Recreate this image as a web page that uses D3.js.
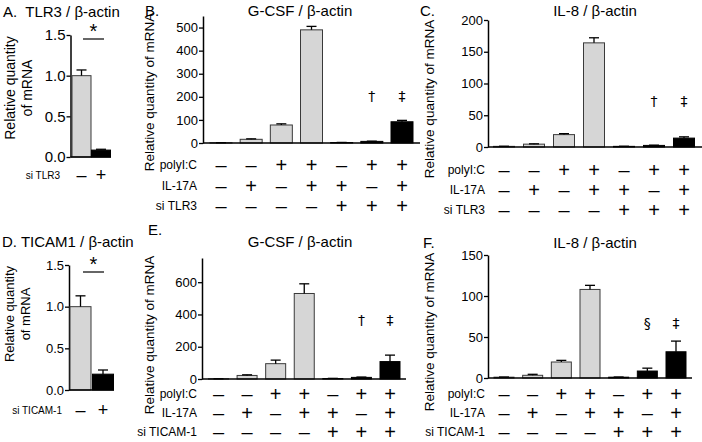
<!DOCTYPE html>
<html>
<head>
<meta charset="utf-8">
<script src="https://cdn.jsdelivr.net/npm/d3@7"></script>
<style>
  body { margin: 0; background: #fff; }
  svg { display: block; font-family: "Liberation Sans", Arial, sans-serif; }
</style>
</head>
<body>
<svg width="702" height="442"></svg>
<script>
// knockdown check panels (A, D)
const kdSigns = ["—", "+"];
const tlr3Values = [1.0, 0.085];
const tlr3Errors = [0.07, 0.01];
const ticamValues = [1.0, 0.19];
const ticamErrors = [0.13, 0.05];
const kdTicks = [0, 0.5, 1.0, 1.5];

// treatment rows for the 7 groups, 1 = "+"
const polyIC = [0, 0, 1, 1, 0, 1, 1];
const il17a = [0, 1, 0, 1, 1, 0, 1];
const siRNA = [0, 0, 0, 0, 1, 1, 1];

// B. G-CSF, si TLR3
const gcsfTlr3 = [1, 16, 78, 490, 2, 7, 92];
const gcsfTlr3Err = [0.3, 2, 5, 15, 0.5, 1, 6];
// C. IL-8, si TLR3
const il8Tlr3 = [1, 4.5, 19.5, 164, 1, 2.5, 14];
const il8Tlr3Err = [0.2, 0.5, 1.5, 8, 0.2, 0.4, 2];
// E. G-CSF, si TICAM-1
const gcsfTicam = [1, 22, 95, 530, 3, 10, 108];
const gcsfTicamErr = [0.5, 4, 22, 60, 1, 2, 40];
// F. IL-8, si TICAM-1
const il8Ticam = [1, 3.3, 19.5, 108, 1, 8.5, 32];
const il8TicamErr = [0.2, 1.2, 2, 5, 0.2, 3.5, 13];

const marksDagger = ["", "", "", "", "", "†", "‡"];
const marksSection = ["", "", "", "", "", "§", "‡"];

const ticksB = [0, 100, 200, 300, 400, 500];
const ticksC = [0, 50, 100, 150, 200];
const ticksE = [0, 200, 400, 600];
const ticksF = [0, 50, 100, 150];

const svg = d3.select("svg");
const light = "#d6d6d6";

function drawBars(g, x, y, values, errors, fills, w) {
  values.forEach((v, i) => {
    const cx = x(i);
    g.append("rect")
      .attr("x", cx - w / 2)
      .attr("y", y(v))
      .attr("width", w)
      .attr("height", y(0) - y(v))
      .attr("fill", fills[i])
      .attr("stroke", fills[i] === "#000" ? "#000" : "#3a3a3a")
      .attr("stroke-width", 1);
    const top = y(v + errors[i]);
    g.append("line")
      .attr("x1", cx).attr("x2", cx)
      .attr("y1", y(v)).attr("y2", top)
      .attr("stroke", "#000").attr("stroke-width", 1.3);
    g.append("line")
      .attr("x1", cx - 5).attr("x2", cx + 5)
      .attr("y1", top).attr("y2", top)
      .attr("stroke", "#000").attr("stroke-width", 1.3);
  });
}

function yAxis(g, y, ticks, axisX, fmt, fs) {
  const ax = g.append("g")
    .attr("transform", `translate(${axisX},0)`)
    .call(d3.axisLeft(y).tickValues(ticks).tickSize(4).tickSizeOuter(0).tickPadding(1).tickFormat(fmt));
  ax.select(".domain").attr("stroke-width", 1.5);
  ax.selectAll(".tick line").attr("stroke-width", 1.3);
  ax.selectAll("text")
    .attr("font-size", fs)
    .attr("font-family", "Liberation Sans, Arial, sans-serif")
    .attr("fill", "#000");
}

// ---- small knockdown panels ----
function kdPanel(p) {
  const g = svg.append("g");
  const y = d3.scaleLinear().domain([0, 1.5]).range([p.base, p.top]);
  const x = d3.scalePoint().domain([0, 1]).range(p.xr);
  g.append("text").attr("x", p.tx).attr("y", p.ty)
    .attr("font-size", 15).attr("xml:space", "preserve").text(p.title);
  yAxis(g, y, kdTicks, p.axisX, d3.format(".1f"), p.fs);
  drawBars(g, x, y, p.values, p.errors, [light, "#000"], p.w);
  g.append("line").attr("x1", p.axisX).attr("x2", p.xEnd)
    .attr("y1", y(0)).attr("y2", y(0)).attr("stroke", "#000").attr("stroke-width", 1.5);
  // y label, two lines
  [["Relative quantity", p.lx1], ["of mRNA", p.lx2]].forEach(([t, lx]) => {
    g.append("text")
      .attr("transform", `translate(${lx},${p.ly}) rotate(-90)`)
      .attr("text-anchor", "middle").attr("font-size", p.lfs).text(t);
  });
  // significance
  g.append("line").attr("x1", p.sx[0]).attr("x2", p.sx[1])
    .attr("y1", p.sy).attr("y2", p.sy).attr("stroke", "#000").attr("stroke-width", 1.2);
  g.append("text").attr("x", (p.sx[0] + p.sx[1]) / 2).attr("y", p.sy - 1)
    .attr("text-anchor", "middle").attr("font-size", 20).text("*");
  // si row
  g.append("text").attr("x", p.rx).attr("y", p.ry).attr("text-anchor", "end")
    .attr("dominant-baseline", "central").attr("font-size", 10).text(p.rowLabel);
  kdSigns.forEach((s, i) => {
    g.append("text").attr("x", x(i)).attr("y", p.ry)
      .attr("text-anchor", "middle").attr("dominant-baseline", "central")
      .attr("font-size", 18).text(s === "—" ? "–" : s);
  });
}

kdPanel({
  title: "A.  TLR3 / β-actin", tx: 3, ty: 17,
  values: tlr3Values, errors: tlr3Errors,
  base: 157, top: 35, axisX: 70.5, xr: [81.5, 101], w: 19, xEnd: 111, fs: 15,
  lx1: 15, lx2: 32, ly: 88, lfs: 14,
  sx: [83, 104], sy: 39,
  rowLabel: "si TLR3", rx: 60, ry: 175
});

kdPanel({
  title: "D. TICAM1 / β-actin", tx: 2, ty: 247,
  values: ticamValues, errors: ticamErrors,
  base: 390, top: 265, axisX: 69, xr: [80.5, 103], w: 21, xEnd: 114, fs: 13,
  lx1: 14, lx2: 30, ly: 314, lfs: 13,
  sx: [83, 104], sy: 272,
  rowLabel: "si TICAM-1", rx: 62, ry: 410
});

// ---- treatment panels ----
function mainPanel(p) {
  const g = svg.append("g");
  const y = d3.scaleLinear().domain([0, p.ymax]).range([p.base, p.top]);
  const x = d3.scalePoint().domain(d3.range(p.values.length)).range(p.xr);
  g.append("text").attr("x", p.lx).attr("y", p.lty).attr("font-size", 15).text(p.letter);
  g.append("text").attr("x", p.tcx).attr("y", p.tty).attr("text-anchor", "middle")
    .attr("font-size", 15).text(p.title);
  yAxis(g, y, p.ticks, p.axisX, d3.format("d"), 13);
  const fills = siRNA.map(s => s ? "#000" : light);
  drawBars(g, x, y, p.values, p.errors, fills, p.w);
  g.append("line").attr("x1", p.axisX).attr("x2", p.xEnd)
    .attr("y1", y(0)).attr("y2", y(0)).attr("stroke", "#000").attr("stroke-width", 1.5);
  g.append("text")
    .attr("transform", `translate(${p.ylx},${p.yly}) rotate(-90)`)
    .attr("text-anchor", "middle").attr("font-size", 13.5).text("Relative quantity of mRNA");
  p.marks.forEach((m, i) => {
    if (!m) return;
    g.append("text").attr("x", x(i)).attr("y", p.my).attr("text-anchor", "middle")
      .attr("dominant-baseline", "central").attr("font-size", 14)
      .attr("font-family", "DejaVu Sans, sans-serif").attr("fill", "#000").text(m);
  });
  const rows = [["polyI:C", polyIC], ["IL-17A", il17a], [p.siLabel, siRNA]];
  rows.forEach(([lab, arr], r) => {
    const ry = p.rowY[r];
    g.append("text").attr("x", p.rx).attr("y", ry).attr("text-anchor", "end")
      .attr("dominant-baseline", "central").attr("font-size", 12).text(lab);
    arr.forEach((v, i) => {
      g.append("text").attr("x", x(i)).attr("y", ry)
        .attr("text-anchor", "middle").attr("dominant-baseline", "central")
        .attr("font-size", 20).text(v ? "+" : "–");
    });
  });
}

mainPanel({
  letter: "B.", lx: 145, lty: 16, title: "G-CSF / β-actin", tcx: 300, tty: 16,
  values: gcsfTlr3, errors: gcsfTlr3Err, marks: marksDagger, ticks: ticksB,
  ymax: 550, base: 143, top: 16, axisX: 203, xr: [221, 402], w: 22, xEnd: 420,
  ylx: 154, yly: 92, my: 96, rowY: [165, 186, 206], rx: 197, siLabel: "si TLR3"
});

mainPanel({
  letter: "C.", lx: 420, lty: 16, title: "IL-8 / β-actin", tcx: 595, tty: 16,
  values: il8Tlr3, errors: il8Tlr3Err, marks: marksDagger, ticks: ticksC,
  ymax: 200, base: 147, top: 20, axisX: 488, xr: [504, 684], w: 21, xEnd: 702,
  ylx: 434, yly: 99, my: 101, rowY: [170, 190, 210], rx: 485, siLabel: "si TLR3"
});

mainPanel({
  letter: "E.", lx: 148, lty: 235, title: "G-CSF / β-actin", tcx: 300, tty: 247,
  values: gcsfTicam, errors: gcsfTicamErr, marks: marksDagger, ticks: ticksE,
  ymax: 750, base: 379, top: 258, axisX: 202, xr: [218.5, 390], w: 20, xEnd: 406,
  ylx: 154, yly: 335, my: 320, rowY: [394, 413, 432], rx: 197, siLabel: "si TICAM-1"
});

mainPanel({
  letter: "F.", lx: 423, lty: 248, title: "IL-8 / β-actin", tcx: 595, tty: 248,
  values: il8Ticam, errors: il8TicamErr, marks: marksSection, ticks: ticksF,
  ymax: 150, base: 378, top: 255, axisX: 488, xr: [504, 676], w: 20, xEnd: 692,
  ylx: 434, yly: 332, my: 323, rowY: [394, 413, 432], rx: 485, siLabel: "si TICAM-1"
});
</script>
</body>
</html>
